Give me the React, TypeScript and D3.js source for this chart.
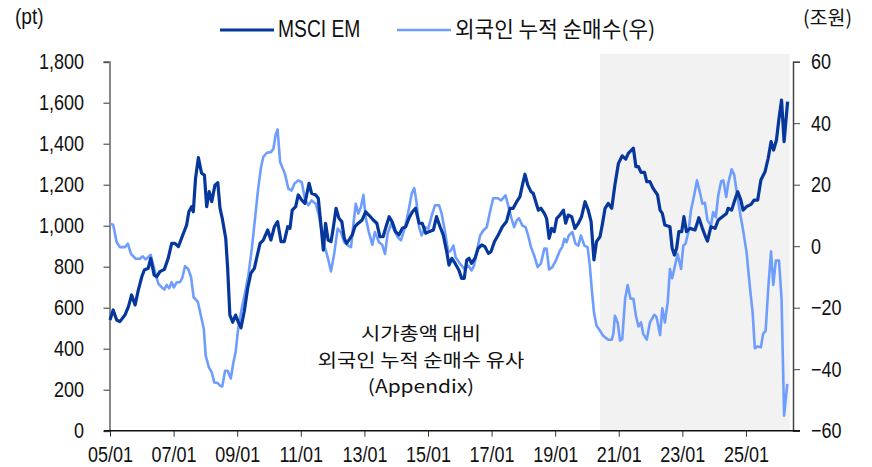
import { useEffect, useRef } from "react";
import * as d3 from "d3";

// MSCI EM (pt, 좌축) — [연도(소수), 값]
const msci: [number, number][] = [
  [2005.00, 540], [2005.10, 589], [2005.21, 540], [2005.31, 532], [2005.47, 564], [2005.58, 605],
  [2005.68, 662], [2005.79, 613], [2005.89, 686], [2006.00, 751], [2006.08, 784], [2006.20, 792],
  [2006.28, 841], [2006.39, 759], [2006.47, 751], [2006.57, 776], [2006.71, 787], [2006.83, 841],
  [2006.94, 914], [2007.04, 914], [2007.15, 898], [2007.31, 963], [2007.41, 1003], [2007.48, 1068],
  [2007.57, 1093], [2007.62, 1068], [2007.69, 1231], [2007.78, 1332], [2007.88, 1256], [2007.97, 1247],
  [2008.04, 1093], [2008.12, 1166], [2008.20, 1117], [2008.30, 1198], [2008.39, 1210], [2008.46, 1085],
  [2008.53, 1036], [2008.64, 938], [2008.70, 792], [2008.77, 564], [2008.86, 529], [2008.95, 564],
  [2009.03, 532], [2009.12, 502], [2009.22, 580], [2009.33, 695], [2009.43, 768], [2009.54, 792],
  [2009.61, 841], [2009.72, 914], [2009.82, 930], [2009.96, 979], [2010.06, 930], [2010.17, 995],
  [2010.27, 1020], [2010.38, 922], [2010.48, 922], [2010.59, 995], [2010.66, 987], [2010.73, 1076],
  [2010.84, 1093], [2010.92, 1150], [2011.03, 1125], [2011.13, 1109], [2011.26, 1207], [2011.34, 1158],
  [2011.47, 1150], [2011.55, 1134], [2011.64, 995], [2011.71, 881], [2011.78, 1012], [2011.86, 930],
  [2011.95, 922], [2012.02, 987], [2012.11, 1085], [2012.20, 1036], [2012.29, 1020], [2012.37, 938],
  [2012.44, 914], [2012.55, 938], [2012.62, 955], [2012.70, 995], [2012.81, 1012], [2012.93, 1028],
  [2013.04, 1068], [2013.14, 1052], [2013.28, 1028], [2013.39, 1012], [2013.49, 946], [2013.59, 946],
  [2013.68, 995], [2013.78, 1044], [2013.87, 1020], [2013.98, 971], [2014.09, 955], [2014.19, 987],
  [2014.30, 995], [2014.40, 1036], [2014.51, 1068], [2014.61, 1085], [2014.72, 1012], [2014.82, 1012],
  [2014.93, 963], [2015.03, 971], [2015.17, 979], [2015.27, 1044], [2015.38, 995], [2015.48, 955],
  [2015.59, 873], [2015.66, 808], [2015.75, 841], [2015.85, 817], [2015.97, 784], [2016.06, 743],
  [2016.14, 743], [2016.22, 833], [2016.29, 841], [2016.37, 817], [2016.48, 841], [2016.58, 890],
  [2016.69, 906], [2016.79, 898], [2016.90, 865], [2016.98, 873], [2017.09, 922], [2017.21, 955],
  [2017.34, 995], [2017.47, 1020], [2017.58, 1085], [2017.68, 1085], [2017.79, 1117], [2017.89, 1141],
  [2017.97, 1198], [2018.05, 1251], [2018.14, 1198], [2018.24, 1166], [2018.31, 1158], [2018.39, 1117],
  [2018.47, 1076], [2018.55, 1085], [2018.66, 1060], [2018.73, 1036], [2018.81, 938], [2018.89, 987],
  [2018.97, 971], [2019.05, 1036], [2019.15, 1052], [2019.26, 1076], [2019.33, 1012], [2019.41, 1052],
  [2019.52, 1044], [2019.62, 987], [2019.73, 1012], [2019.83, 1044], [2019.94, 1117], [2020.04, 1076],
  [2020.13, 1020], [2020.22, 833], [2020.30, 922], [2020.41, 946], [2020.48, 1003], [2020.57, 1085],
  [2020.67, 1109], [2020.78, 1085], [2020.88, 1200], [2020.99, 1304], [2021.11, 1341], [2021.22, 1325],
  [2021.30, 1353], [2021.46, 1378], [2021.54, 1288], [2021.62, 1288], [2021.70, 1260], [2021.81, 1260],
  [2021.88, 1215], [2021.98, 1215], [2022.08, 1182], [2022.22, 1150], [2022.30, 1076], [2022.37, 1060],
  [2022.45, 1003], [2022.61, 995], [2022.68, 890], [2022.75, 857], [2022.82, 890], [2022.89, 971],
  [2022.98, 971], [2023.05, 1044], [2023.13, 971], [2023.24, 987], [2023.40, 979], [2023.52, 1039],
  [2023.63, 987], [2023.73, 946], [2023.79, 925], [2023.90, 995], [2024.03, 987], [2024.13, 1028],
  [2024.26, 1044], [2024.39, 1060], [2024.44, 1085], [2024.55, 1076], [2024.65, 1125], [2024.74, 1166],
  [2024.84, 1125], [2024.91, 1076], [2025.02, 1093], [2025.16, 1104], [2025.26, 1125], [2025.37, 1125],
  [2025.47, 1223], [2025.60, 1263], [2025.70, 1329], [2025.79, 1410], [2025.87, 1369], [2025.96, 1418],
  [2026.04, 1524], [2026.12, 1613], [2026.20, 1410], [2026.31, 1605],
];

// 외국인 누적 순매수 (조원, 우축)
const flow: [number, number][] = [
  [2005.00, 7.3], [2005.10, 7.0], [2005.21, 1.3], [2005.31, -0.3], [2005.47, -0.3], [2005.56, 0.8],
  [2005.66, -2.5], [2005.81, -4.1], [2005.94, -4.1], [2006.03, -3.3], [2006.12, -4.3], [2006.28, -2.8],
  [2006.42, -8.5], [2006.52, -12.2], [2006.63, -13.4], [2006.71, -14.1], [2006.78, -12.6], [2006.86, -13.7],
  [2006.94, -11.7], [2007.01, -13.4], [2007.10, -11.7], [2007.20, -11.7], [2007.27, -10.4], [2007.36, -6.5],
  [2007.46, -7.4], [2007.55, -10.1], [2007.63, -16.6], [2007.76, -18.0], [2007.86, -22.6], [2007.95, -26.9],
  [2008.01, -35.6], [2008.11, -39.4], [2008.20, -41.0], [2008.28, -44.3], [2008.39, -44.5], [2008.46, -45.4],
  [2008.53, -45.6], [2008.62, -40.5], [2008.70, -40.5], [2008.80, -43.0], [2008.88, -37.8], [2008.95, -34.5],
  [2009.03, -26.9], [2009.14, -20.4], [2009.25, -15.0], [2009.35, -9.5], [2009.46, -0.8], [2009.56, 8.9],
  [2009.66, 18.7], [2009.75, 25.7], [2009.82, 29.0], [2009.93, 30.4], [2010.06, 30.6], [2010.14, 31.7],
  [2010.21, 36.3], [2010.27, 38.0], [2010.35, 27.4], [2010.50, 23.6], [2010.61, 18.7], [2010.71, 18.1],
  [2010.80, 20.3], [2010.92, 21.4], [2011.03, 20.8], [2011.13, 15.4], [2011.24, 13.3], [2011.34, 14.9],
  [2011.47, 13.8], [2011.57, 10.0], [2011.68, 3.5], [2011.76, -0.3], [2011.86, -4.1], [2011.95, -8.2],
  [2012.05, -2.5], [2012.16, 5.7], [2012.26, 4.6], [2012.37, 1.3], [2012.49, 0.2], [2012.58, -0.3],
  [2012.65, 6.7], [2012.73, 13.8], [2012.81, 10.6], [2012.89, 12.7], [2012.97, 16.7], [2013.04, 9.4],
  [2013.14, 4.6], [2013.25, 0.5], [2013.33, 4.6], [2013.46, 1.3], [2013.56, 0.5], [2013.65, -2.5],
  [2013.73, 4.0], [2013.84, 7.3], [2013.94, 5.1], [2014.05, 2.9], [2014.15, 1.9], [2014.28, 6.2],
  [2014.38, 11.1], [2014.49, 17.1], [2014.57, 18.9], [2014.64, 14.3], [2014.72, 6.2], [2014.80, 3.5],
  [2014.91, 6.2], [2015.01, 5.7], [2015.12, 10.0], [2015.22, 13.3], [2015.35, 13.3], [2015.43, 10.6],
  [2015.53, 5.0], [2015.64, -2.0], [2015.72, -1.4], [2015.80, 0.2], [2015.87, -3.6], [2016.01, -5.7],
  [2016.14, -7.4], [2016.27, -6.3], [2016.37, -7.9], [2016.45, -6.3], [2016.53, -2.0], [2016.64, 3.5],
  [2016.74, 5.1], [2016.85, 6.2], [2016.95, 11.1], [2017.05, 15.6], [2017.19, 15.6], [2017.30, 14.9],
  [2017.44, 16.5], [2017.55, 12.2], [2017.63, 8.9], [2017.71, 6.2], [2017.79, 8.4], [2017.86, 9.1],
  [2017.97, 6.7], [2018.07, 6.2], [2018.15, 3.5], [2018.24, -0.3], [2018.34, -3.0], [2018.45, -6.8],
  [2018.55, -5.7], [2018.66, -0.8], [2018.73, -0.8], [2018.81, -7.6], [2018.91, -6.8], [2019.02, -4.7],
  [2019.15, -1.4], [2019.22, -0.3], [2019.29, 2.4], [2019.36, 1.3], [2019.43, 3.5], [2019.54, 4.6],
  [2019.64, 0.8], [2019.73, 0.2], [2019.81, 3.5], [2019.92, 0.2], [2020.02, -0.3], [2020.09, -6.3],
  [2020.15, -13.9], [2020.22, -21.5], [2020.30, -25.8], [2020.41, -27.5], [2020.51, -29.1], [2020.67, -30.4],
  [2020.78, -30.4], [2020.83, -28.5], [2020.88, -22.6], [2020.97, -25.0], [2021.04, -30.7], [2021.11, -30.2],
  [2021.20, -17.1], [2021.28, -12.6], [2021.37, -17.1], [2021.46, -17.1], [2021.54, -22.6], [2021.62, -26.1],
  [2021.70, -24.8], [2021.77, -28.5], [2021.88, -30.4], [2021.98, -24.8], [2022.12, -22.3], [2022.19, -23.1],
  [2022.30, -28.9], [2022.37, -20.2], [2022.45, -24.8], [2022.54, -18.2], [2022.61, -7.4], [2022.68, -10.4],
  [2022.77, -6.3], [2022.85, -2.5], [2022.96, -7.4], [2023.03, 0.2], [2023.10, 0.8], [2023.19, 4.6],
  [2023.27, 11.6], [2023.37, 16.5], [2023.46, 21.4], [2023.55, 17.6], [2023.63, 13.8], [2023.71, 14.1],
  [2023.79, 8.4], [2023.90, 6.7], [2023.97, 11.1], [2024.05, 9.4], [2024.13, 16.5], [2024.22, 21.1],
  [2024.29, 21.4], [2024.38, 16.0], [2024.44, 20.3], [2024.55, 25.0], [2024.63, 23.3], [2024.71, 17.6],
  [2024.81, 11.1], [2024.92, 4.6], [2025.02, -2.0], [2025.13, -13.9], [2025.21, -21.5], [2025.28, -33.2],
  [2025.37, -32.6], [2025.47, -32.9], [2025.54, -28.5], [2025.62, -27.5], [2025.70, -13.9], [2025.79, -1.7],
  [2025.86, -12.6], [2025.94, -4.7], [2026.04, -4.7], [2026.12, -17.1], [2026.20, -55.1], [2026.30, -44.8],
];

const xTicks = [2005, 2007, 2009, 2011, 2013, 2015, 2017, 2019, 2021, 2023, 2025];
const leftTicks = [0, 200, 400, 600, 800, 1000, 1200, 1400, 1600, 1800];
const rightTicks = [-60, -40, -20, 0, 20, 40, 60];
const shade = [2020.41, 2026.38];
const note = ["시가총액 대비", "외국인 누적 순매수 유사", "(Appendix)"];

const LAT = "'Liberation Sans', Arial, sans-serif";
const KR = "'Noto Sans CJK KR', sans-serif";
const DARK = "#06379c";
const LIGHT = "#6f9dfd";
const SQ = 0.8; // 가로 압축 (좁은 글꼴 흉내)

export default function App() {
  const svgRef = useRef<SVGSVGElement>(null);

  useEffect(() => {
    document.body.style.margin = "0";
    if (!svgRef.current) return;
    const W = 872, H = 467;
    const m = { top: 61.7, right: 79, bottom: 36.3, left: 110 };

    const svg = d3.select(svgRef.current);
    svg.selectAll("*").remove();

    const x = d3.scaleLinear().domain([2005, 2026.48]).range([m.left, W - m.right]);
    const yL = d3.scaleLinear().domain([0, 1800]).range([H - m.bottom, m.top]);
    const yR = d3.scaleLinear().domain([-60, 60]).range([H - m.bottom, m.top]);

    // 음영 구간
    svg.append("rect")
      .attr("x", x(shade[0])).attr("y", 54)
      .attr("width", x(shade[1]) - x(shade[0]))
      .attr("height", yL(0) - 54)
      .attr("fill", "#f2f2f2");

    // 좌축
    const gl = svg.append("g").attr("transform", `translate(${m.left - 0.5},0)`)
      .call(d3.axisLeft(yL).tickValues(leftTicks).tickSize(6).tickFormat(d3.format(",")));
    gl.select(".domain").attr("stroke", "#888").attr("stroke-width", 2);
    gl.selectAll(".tick line").attr("stroke", "#333");
    gl.selectAll(".tick text").attr("x", 0).attr("transform", `translate(-25.5,0) scale(${SQ},1)`)
      .attr("font-family", LAT).attr("font-size", 22.5).attr("fill", "#111");

    // 우축
    const gr = svg.append("g").attr("transform", `translate(${W - m.right},0)`)
      .call(d3.axisRight(yR).tickValues(rightTicks).tickSize(7).tickFormat(d3.format("d")));
    gr.select(".domain").attr("stroke", "#444").attr("stroke-width", 1.5);
    gr.selectAll(".tick line").attr("stroke", "#444");
    gr.selectAll(".tick text").attr("x", 0).attr("transform", `translate(18,0) scale(${SQ},1)`)
      .attr("font-family", LAT).attr("font-size", 22.5).attr("fill", "#111")
      .text(d => (d as number) < 0 ? `−${-(d as number)}` : `${d}`);

    // 하단축
    const gb = svg.append("g").attr("transform", `translate(0,${H - m.bottom})`)
      .call(d3.axisBottom(x).tickValues(xTicks).tickSize(6).tickPadding(9)
        .tickFormat(d => `${String((d as number) % 100).padStart(2, "0")}/01`));
    gb.select(".domain").remove();
    gb.append("line").attr("x1", m.left - 6).attr("x2", W - m.right + 7)
      .attr("stroke", "#111").attr("stroke-width", 1.5);
    gb.selectAll(".tick line").attr("stroke", "#333");
    gb.selectAll(".tick text").attr("transform", `scale(${SQ},1)`)
      .attr("font-family", LAT).attr("font-size", 22.5).attr("fill", "#111");

    // 선
    const lineR = d3.line<[number, number]>().x(d => x(d[0])).y(d => yR(d[1]));
    const lineL = d3.line<[number, number]>().x(d => x(d[0])).y(d => yL(d[1]));
    svg.append("path").datum(flow).attr("d", lineR).attr("fill", "none")
      .attr("stroke", LIGHT).attr("stroke-width", 2.6).attr("stroke-linejoin", "round");
    svg.append("path").datum(msci).attr("d", lineL).attr("fill", "none")
      .attr("stroke", DARK).attr("stroke-width", 3.2).attr("stroke-linejoin", "round");

    // 단위
    svg.append("text").attr("transform", `translate(15,24) scale(${SQ + 0.05},1)`).text("(pt)")
      .attr("font-family", LAT).attr("font-size", 22.5).attr("fill", "#111");
    svg.append("text").attr("x", 803).attr("y", 25).text("(조원)")
      .attr("font-family", KR).attr("font-size", 19.5).attr("fill", "#111");

    // 범례
    svg.append("line").attr("x1", 220).attr("x2", 274).attr("y1", 30).attr("y2", 30)
      .attr("stroke", DARK).attr("stroke-width", 3.2);
    svg.append("text").attr("transform", `translate(278,37) scale(0.82,1)`).text("MSCI EM")
      .attr("font-family", LAT).attr("font-size", 23.5).attr("fill", "#111");
    svg.append("line").attr("x1", 397).attr("x2", 451).attr("y1", 30).attr("y2", 30)
      .attr("stroke", LIGHT).attr("stroke-width", 2.6);
    svg.append("text").attr("x", 455).attr("y", 37).text("외국인 누적 순매수(우)")
      .attr("font-family", KR).attr("font-size", 21.3).attr("fill", "#111");

    // 주석 (세로로 낮춘 글꼴을 가로로 늘려 폭 유지)
    svg.append("g").selectAll("text").data(note).join("text")
      .attr("transform", (_, i) => `translate(421,${340 + i * 26.5}) scale(1.15,1)`)
      .attr("text-anchor", "middle")
      .attr("font-family", KR).attr("font-size", 18.2).attr("fill", "#111")
      .text(d => d);
  }, []);

  return <svg ref={svgRef} width={872} height={467} style={{ display: "block", background: "#fff" }} />;
}
